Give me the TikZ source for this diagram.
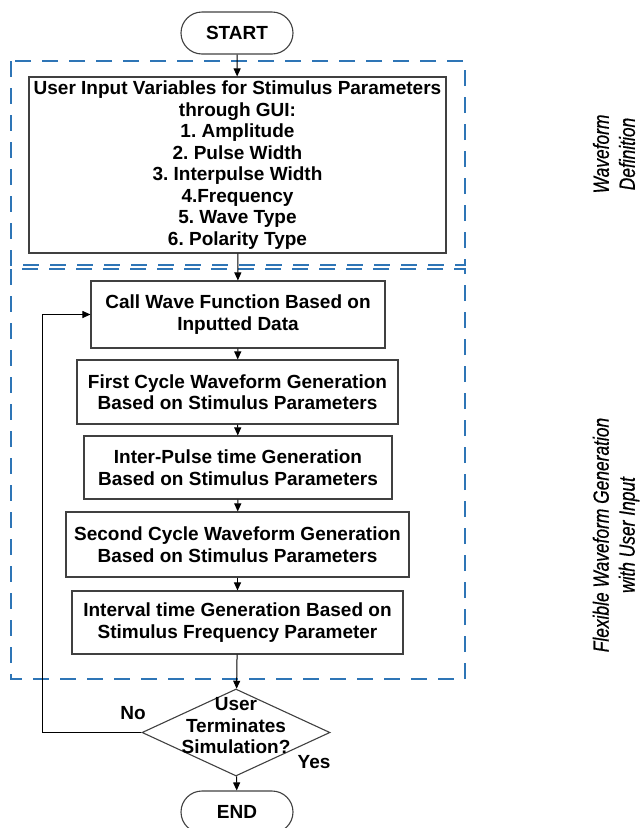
\documentclass[tikz,border=0pt]{standalone}
\usepackage{fontspec}
\setmainfont{Liberation Sans}
\newfontfamily\sidefont[FakeStretch=0.79,FakeBold=0.6]{Liberation Sans}
\usetikzlibrary{shapes.geometric,arrows.meta}
\definecolor{dashblue}{RGB}{46,117,182}
\definecolor{boxgray}{RGB}{64,64,64}
\frenchspacing
\begin{document}
\begin{tikzpicture}[x=1pt,y=-1pt,
  every node/.style={font=\fontsize{19}{21.5}\selectfont\bfseries},
  procbox/.style={draw=boxgray,line width=1.1pt,rectangle,inner sep=0pt,align=center},
  term/.style={draw=boxgray,line width=1.1pt,rectangle,rounded corners=21pt,minimum width=112pt,minimum height=42pt,inner sep=0pt},
  region/.style={draw=dashblue,line width=2pt,dash pattern=on 16pt off 11pt},
  flow/.style={draw=black,line width=1pt,-{Triangle[length=8pt,width=7pt]}},
  sidelabel/.style={rotate=90,align=center,font=\sidefont\itshape\fontsize{22}{26}\selectfont}]
\useasboundingbox (0,0) rectangle (641,828);
% dashed regions
\draw[region] (11,61) rectangle (465,265);
\draw[region] (11,269) rectangle (465,679);
% nodes
\node[term] (start) at (237,33) {START};
\node[procbox,minimum width=417pt,minimum height=176pt] (input) at (237.5,165)
  {User Input Variables for Stimulus Parameters\\through GUI:\\1. Amplitude\\2. Pulse Width\\3. Interpulse Width\\4.Frequency\\5. Wave Type\\6. Polarity Type};
\node[procbox,minimum width=294pt,minimum height=67pt] (call) at (238,314.5)
  {Call Wave Function Based on\\Inputted Data};
\node[procbox,minimum width=321pt,minimum height=64pt] (first) at (237.5,392)
  {First Cycle Waveform Generation\\Based on Stimulus Parameters};
\node[procbox,minimum width=308pt,minimum height=63pt] (inter) at (238,467.5)
  {Inter-Pulse time Generation\\Based on Stimulus Parameters};
\node[procbox,minimum width=343pt,minimum height=65pt] (second) at (237.5,544.5)
  {Second Cycle Waveform Generation\\Based on Stimulus Parameters};
\node[procbox,minimum width=331pt,minimum height=63pt] (interval) at (237.5,622.5)
  {Interval time Generation Based on\\Stimulus Frequency Parameter};
\node[draw=boxgray,line width=1.1pt,diamond,minimum width=188pt,minimum height=87pt,inner sep=0pt] (dec) at (236,732.5) {};
\node[align=center] (dectext) at (236,726) {User\\Terminates\\Simulation?};
\node[term] (end) at (237,812) {END};
\node (no) at (133,713) {No};
\node (yes) at (314,762) {Yes};
\coordinate (loopb) at (42,732.5);
\coordinate (loopt) at (42,314.5);
% side labels
\node[sidelabel] (lab1) at (614,154) {Waveform\\Definition};
\node[sidelabel] (lab2) at (616,535) {Flexible Waveform Generation\\with User Input};
% connectors
\draw[flow] (start) -- (input);
\draw[flow] (input) -- (call);
\draw[flow] (call) -- (first);
\draw[flow] (first) -- (inter);
\draw[flow] (inter) -- (second);
\draw[flow] (second) -- (interval);
\draw[flow] (interval) -- (dec);
\draw[flow] (dec) -- (end);
\draw[flow] (dec.west) -- (loopb) -- (loopt) -- (call.west);
\end{tikzpicture}
\end{document}
